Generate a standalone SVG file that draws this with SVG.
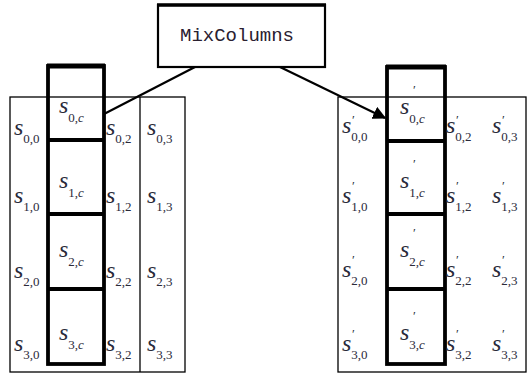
<svg xmlns="http://www.w3.org/2000/svg" width="528" height="374" viewBox="0 0 528 374">
<style>
.thin{fill:none;stroke:#000;stroke-width:1.3}
.thick{fill:none;stroke:#000;stroke-width:3.8}
.s{font-family:"Liberation Serif",serif;font-style:italic;font-size:24px;fill:#2a2a3a}
.sub{font-family:"Liberation Serif",serif;font-style:normal;font-size:13px}
.pr{font-family:"Liberation Serif",serif;font-size:13px;fill:#2a2a3a}
.mono{font-family:"Liberation Mono",monospace;font-size:19px;fill:#2a2030}
.conn{stroke:#000;stroke-width:2.2;fill:none}
</style>
<defs>
<marker id="ah" viewBox="0 0 10 10" refX="9" refY="5" markerWidth="6" markerHeight="6" orient="auto" markerUnits="strokeWidth">
<path d="M0,0 L10,5 L0,10 z" fill="#000"/>
</marker>
</defs>
<rect width="528" height="374" fill="#fff"/>

<g id="mixcolumns">
<rect x="158" y="5" width="167" height="62" fill="#fff" stroke="#000" stroke-width="2.2"/>
<line x1="157" y1="5" x2="326" y2="5" stroke="#000" stroke-width="3.5"/>
<text x="180" y="41" class="mono">MixColumns</text>
</g>

<g id="state-left">
<rect x="10" y="97" width="175" height="275" class="thin"/>
<line x1="140" y1="97" x2="140" y2="372" class="thin"/>
<rect x="48" y="66" width="56" height="298" class="thick"/>
<line x1="47" y1="66" x2="105" y2="66" stroke="#000" stroke-width="5"/>
<line x1="48" y1="140" x2="104" y2="140" class="thick"/>
<line x1="48" y1="214" x2="104" y2="214" class="thick"/>
<line x1="48" y1="289" x2="104" y2="289" class="thick"/>
<text x="14" y="135" class="s">s<tspan class="sub" dy="8">0,0</tspan></text>
<text x="59" y="113" class="s">s<tspan class="sub" dy="9">0,<tspan font-style="italic">c</tspan></tspan></text>
<text x="106" y="135" class="s">s<tspan class="sub" dy="8">0,2</tspan></text>
<text x="147" y="135" class="s">s<tspan class="sub" dy="8">0,3</tspan></text>
<text x="14" y="203" class="s">s<tspan class="sub" dy="8">1,0</tspan></text>
<text x="59" y="188" class="s">s<tspan class="sub" dy="9">1,<tspan font-style="italic">c</tspan></tspan></text>
<text x="106" y="203" class="s">s<tspan class="sub" dy="8">1,2</tspan></text>
<text x="147" y="203" class="s">s<tspan class="sub" dy="8">1,3</tspan></text>
<text x="14" y="278" class="s">s<tspan class="sub" dy="8">2,0</tspan></text>
<text x="59" y="257" class="s">s<tspan class="sub" dy="9">2,<tspan font-style="italic">c</tspan></tspan></text>
<text x="106" y="278" class="s">s<tspan class="sub" dy="8">2,2</tspan></text>
<text x="147" y="278" class="s">s<tspan class="sub" dy="8">2,3</tspan></text>
<text x="14" y="351" class="s">s<tspan class="sub" dy="8">3,0</tspan></text>
<text x="59" y="340" class="s">s<tspan class="sub" dy="9">3,<tspan font-style="italic">c</tspan></tspan></text>
<text x="106" y="351" class="s">s<tspan class="sub" dy="8">3,2</tspan></text>
<text x="147" y="351" class="s">s<tspan class="sub" dy="8">3,3</tspan></text>
</g>

<g id="state-right">
<rect x="338" y="97" width="188" height="275" class="thin"/>
<rect x="387" y="67" width="58" height="297" class="thick"/>
<line x1="386" y1="67" x2="446" y2="67" stroke="#000" stroke-width="5"/>
<line x1="387" y1="141" x2="445" y2="141" class="thick"/>
<line x1="387" y1="214" x2="445" y2="214" class="thick"/>
<line x1="387" y1="289" x2="445" y2="289" class="thick"/>
<text x="342" y="133" class="s">s<tspan class="sub" dy="8">0,0</tspan></text>
<text x="400" y="114" class="s">s<tspan class="sub" dy="9">0,<tspan font-style="italic">c</tspan></tspan></text>
<text x="446" y="133" class="s">s<tspan class="sub" dy="8">0,2</tspan></text>
<text x="492" y="133" class="s">s<tspan class="sub" dy="8">0,3</tspan></text>
<text x="342" y="203" class="s">s<tspan class="sub" dy="8">1,0</tspan></text>
<text x="400" y="188" class="s">s<tspan class="sub" dy="9">1,<tspan font-style="italic">c</tspan></tspan></text>
<text x="446" y="203" class="s">s<tspan class="sub" dy="8">1,2</tspan></text>
<text x="492" y="203" class="s">s<tspan class="sub" dy="8">1,3</tspan></text>
<text x="342" y="277" class="s">s<tspan class="sub" dy="8">2,0</tspan></text>
<text x="400" y="257" class="s">s<tspan class="sub" dy="9">2,<tspan font-style="italic">c</tspan></tspan></text>
<text x="446" y="277" class="s">s<tspan class="sub" dy="8">2,2</tspan></text>
<text x="492" y="277" class="s">s<tspan class="sub" dy="8">2,3</tspan></text>
<text x="342" y="351" class="s">s<tspan class="sub" dy="8">3,0</tspan></text>
<text x="400" y="340" class="s">s<tspan class="sub" dy="9">3,<tspan font-style="italic">c</tspan></tspan></text>
<text x="446" y="351" class="s">s<tspan class="sub" dy="8">3,2</tspan></text>
<text x="492" y="351" class="s">s<tspan class="sub" dy="8">3,3</tspan></text>
<g class="pr">
<text x="352" y="124">′</text>
<text x="413" y="94">′</text>
<text x="456" y="124">′</text>
<text x="502" y="124">′</text>
<text x="352" y="190">′</text>
<text x="413" y="168">′</text>
<text x="456" y="190">′</text>
<text x="502" y="190">′</text>
<text x="352" y="264">′</text>
<text x="413" y="237">′</text>
<text x="456" y="264">′</text>
<text x="502" y="264">′</text>
<text x="352" y="338">′</text>
<text x="413" y="320">′</text>
<text x="456" y="338">′</text>
<text x="502" y="338">′</text>
</g>
</g>

<g id="connectors">
<line x1="195" y1="67" x2="104" y2="114" class="conn"/>
<line x1="280" y1="67" x2="385" y2="118" class="conn" marker-end="url(#ah)"/>
</g>
</svg>
